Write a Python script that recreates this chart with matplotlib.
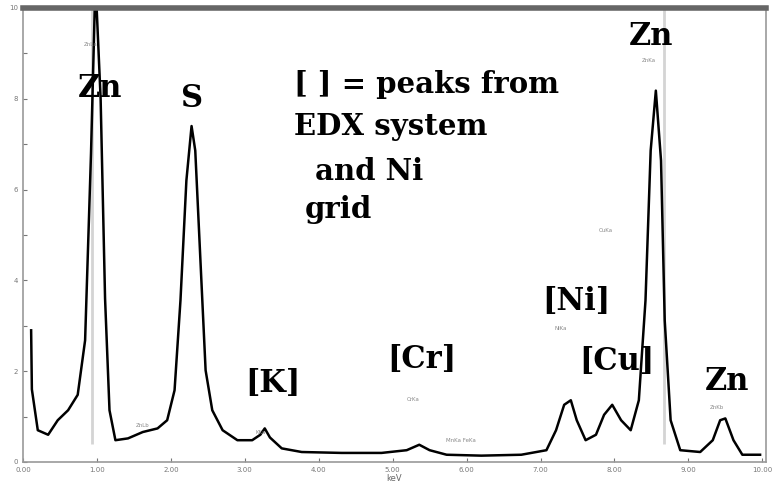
import matplotlib
matplotlib.use("Agg")
import matplotlib.pyplot as plt
import numpy as np

# spectrum (energy in keV, counts in axis units)
energy = [0.11, 0.12, 0.20, 0.34, 0.47, 0.61, 0.74, 0.84, 0.92, 0.98, 1.05, 1.11, 1.17,
          1.25, 1.42, 1.62, 1.82, 1.95, 2.05, 2.13, 2.21, 2.28, 2.33, 2.40, 2.47, 2.56,
          2.70, 2.90, 3.10, 3.21, 3.27, 3.34, 3.50, 3.77, 4.31, 4.85, 5.19, 5.36, 5.50,
          5.73, 6.20, 6.74, 7.08, 7.21, 7.32, 7.41, 7.49, 7.61, 7.75, 7.86, 7.97, 8.09,
          8.22, 8.33, 8.42, 8.49, 8.56, 8.63, 8.68, 8.76, 8.89, 9.16, 9.33, 9.43, 9.50,
          9.61, 9.73, 9.97]
counts = [2.9, 1.6, 0.7, 0.6, 0.92, 1.14, 1.48, 2.68, 6.8, 10.6, 8.0, 3.6, 1.14,
          0.48, 0.52, 0.66, 0.74, 0.92, 1.58, 3.56, 6.2, 7.4, 6.86, 4.44, 2.02, 1.14,
          0.7, 0.48, 0.48, 0.6, 0.74, 0.54, 0.3, 0.22, 0.2, 0.2, 0.26, 0.38, 0.26,
          0.16, 0.14, 0.16, 0.26, 0.7, 1.26, 1.36, 0.92, 0.48, 0.6, 1.04, 1.26, 0.92,
          0.7, 1.36, 3.56, 6.86, 8.18, 6.64, 3.12, 0.92, 0.26, 0.22, 0.48, 0.92, 0.96,
          0.48, 0.16, 0.16]

# big element labels: (text, x centre, baseline y)
labels = [("Zn", 1.04, 8.04), ("S", 2.29, 7.82), ("[K]", 3.38, 1.54),
          ("[Cr]", 5.40, 2.07), ("[Ni]", 7.49, 3.35), ("[Cu]", 8.03, 2.03),
          ("Zn", 8.49, 9.19), ("Zn", 9.53, 1.59)]
# note block: (text, left x, baseline y)
note_lines = [("[ ] = peaks from", 3.67, 8.13), ("EDX system", 3.67, 7.20),
              ("and Ni", 3.95, 6.21), ("grid", 3.81, 5.38)]
# tiny line markers
markers = [("ZnLa", 0.92, 9.2), ("ZnKa", 8.46, 8.85), ("CuKa", 7.88, 5.1),
           ("NiKa", 7.28, 2.95), ("CrKa", 5.28, 1.37), ("KKa", 3.21, 0.64),
           ("ZnKb", 9.39, 1.19), ("ZnLb", 1.62, 0.8), ("MnKa FeKa", 5.93, 0.48)]
# faint gray marker lines: (energy, top)
guide_x = [0.93, 8.67]
guide_top = [10.0, 10.0]

fig = plt.figure(figsize=(7.76, 4.95), dpi=100)
ax = fig.add_axes([23/776, 1 - 462/495, (766-23)/776, (462-8)/495])

ax.vlines(guide_x, 0.4, guide_top, colors="#d4d4d4", linewidth=2)
ax.plot(energy, counts, color="black", linewidth=1.8)
ax.set_xlim(0.03, 10.05)
ax.set_ylim(0, 10.0)

ax.set_xticks(np.arange(0, 11, 1))
ax.set_xticklabels(["%.2f" % t for t in range(11)], fontsize=5, color="#888888")
ax.set_yticks(np.arange(0, 11, 1))
ax.set_yticklabels(["%d" % t if t % 2 == 0 else "" for t in range(11)],
                   fontsize=5, color="#888888")
ax.tick_params(direction="in", length=3, colors="#777777")
ax.set_xlabel("keV", fontsize=6, color="#666666", labelpad=1)

for side in ["left", "bottom", "right"]:
    ax.spines[side].set_color("#999999")
    ax.spines[side].set_linewidth(1.2)
ax.spines["top"].set_color("#666666")
ax.spines["top"].set_linewidth(4)

for txt, x, y in labels:
    ax.text(x, y, txt, fontsize=22, fontweight="bold", family="DejaVu Serif",
            ha="center", va="baseline")
for txt, x, y in note_lines:
    ax.text(x, y, txt, fontsize=21, fontweight="bold", family="DejaVu Serif",
            ha="left", va="baseline")
for txt, x, y in markers:
    ax.text(x, y, txt, fontsize=4, color="#888888", ha="center", va="center")

fig.savefig("out.png", dpi=100)
